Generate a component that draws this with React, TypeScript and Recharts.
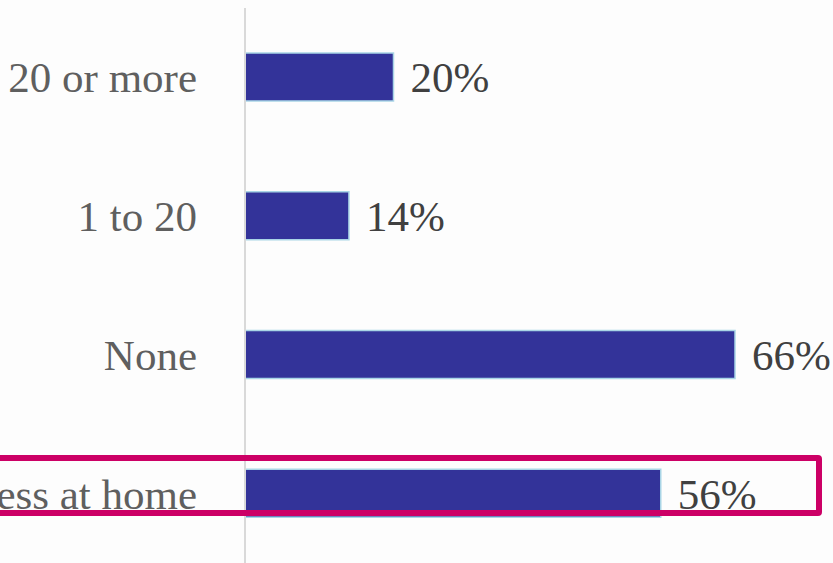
import { Bar, BarChart, LabelList, XAxis, YAxis } from "recharts";

const categories = ["20 or more", "1 to 20", "None", "Internet access at home"];
const shares = [20, 14, 66, 56];

const data = categories.map((name, i) => ({ name, value: shares[i] }));

const colors = {
  bar: "#333399",
  barEdge: "#a9d5e6",
  axis: "#d9d9d9",
  label: "#5f5f5f",
  value: "#404040",
  highlight: "#cc0066",
  bg: "#fdfdfd",
};

const font = '"Liberation Serif", "DejaVu Serif", serif';

function CategoryTick({ x, y, payload }: { x?: number; y?: number; payload?: { value: string } }) {
  return (
    <text x={x} y={y} dy="0.35em" textAnchor="end" fill={colors.label} fontSize={43} fontFamily={font}>
      {payload?.value}
    </text>
  );
}

export default function App() {
  return (
    <div
      style={{
        position: "fixed",
        left: 0,
        top: 0,
        width: 833,
        height: 563,
        overflow: "hidden",
        background: colors.bg,
      }}
    >
      <BarChart
        width={833}
        height={563}
        data={data}
        layout="vertical"
        margin={{ top: 8, right: 0, left: 0, bottom: 0 }}
      >
        <XAxis type="number" domain={[0, 79.2]} hide />
        <YAxis
          type="category"
          dataKey="name"
          width={245}
          tickLine={false}
          tickSize={0}
          tickMargin={48}
          axisLine={{ stroke: colors.axis, strokeWidth: 2 }}
          tick={<CategoryTick />}
        />
        <Bar
          dataKey="value"
          fill={colors.bar}
          stroke={colors.barEdge}
          strokeWidth={1.5}
          barSize={48}
          isAnimationActive={false}
        >
          <LabelList
            dataKey="value"
            position="right"
            offset={17}
            formatter={(v: number) => `${v}%`}
            fill={colors.value}
            fontSize={43}
            fontFamily={font}
          />
        </Bar>
      </BarChart>
      <div
        style={{
          position: "absolute",
          left: -12,
          top: 455,
          width: 822,
          height: 49,
          border: `6px solid ${colors.highlight}`,
          borderRadius: 4,
        }}
      />
    </div>
  );
}
